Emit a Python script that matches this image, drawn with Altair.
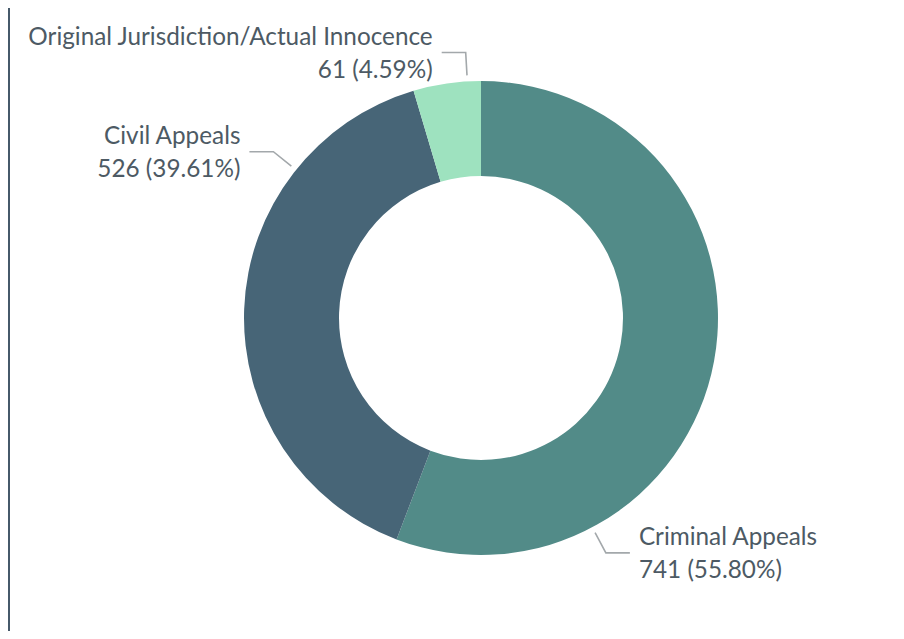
import math
import altair as alt
import pandas as pd

# ---- data ----
categories = ["Criminal Appeals", "Civil Appeals", "Original Jurisdiction/Actual Innocence"]
counts = [741, 526, 61]
colors = ["#528b88", "#476577", "#9ee2bf"]

# ---- layout (label anchor angles in degrees, clockwise from 12 o'clock) ----
label_angle = [152.0, 308.7, 356.7]
label_side = ["right", "left", "left"]

W, H = 888, 623
CX, CY = 473, 310
R_OUT, R_IN = 237, 142
R_L0, R_L1, HSEG, GAP = 243, 266, 24, 9
LH = 33

total = sum(counts)
df = pd.DataFrame({
    "category": categories,
    "count": counts,
    "order": list(range(len(categories))),
})
df["label"] = [f"{c}\n{v} ({v / total * 100:.2f}%)" for c, v in zip(categories, counts)]

# leader lines and label anchors derived from angles
line_rows, text_rows = [], []
for i, (c, a, side) in enumerate(zip(categories, label_angle, label_side)):
    t = math.radians(a)
    x0, y0 = CX + R_L0 * math.sin(t), CY - R_L0 * math.cos(t)
    x1, y1 = CX + R_L1 * math.sin(t), CY - R_L1 * math.cos(t)
    sgn = 1 if side == "right" else -1
    x2 = x1 + sgn * HSEG
    for k, (px, py) in enumerate([(x0, y0), (x1, y1), (x2, y1)]):
        line_rows.append({"category": c, "k": k, "px": px, "py": py})
    text_rows.append({"category": c, "side": side, "tx": x2 + sgn * GAP, "ty": y1,
                      "label": df.loc[i, "label"]})
lines = pd.DataFrame(line_rows)
texts = pd.DataFrame(text_rows)

xs = alt.Scale(domain=[0, W], range=[0, W])
ys = alt.Scale(domain=[0, H], range=[0, H])

arc = alt.Chart(df).mark_arc(outerRadius=R_OUT, innerRadius=R_IN).encode(
    theta=alt.Theta("count:Q", stack=True),
    order=alt.Order("order:Q"),
    color=alt.Color("category:N", scale=alt.Scale(domain=categories, range=colors), legend=None),
    x=alt.value(CX),
    y=alt.value(CY),
)

leaders = alt.Chart(lines).mark_line(color="#a3a8ab", strokeWidth=1.6).encode(
    x=alt.X("px:Q", scale=xs, axis=None),
    y=alt.Y("py:Q", scale=ys, axis=None),
    detail="category:N",
    order="k:Q",
)

text_common = dict(font="Lato", fontSize=24.3, color="#4d5a64", baseline="middle",
                   lineBreak="\n", lineHeight=LH, dy=-LH / 2 + 2)
text_right = alt.Chart(texts).transform_filter("datum.side == 'right'").mark_text(align="left", **text_common).encode(
    x=alt.X("tx:Q", scale=xs, axis=None), y=alt.Y("ty:Q", scale=ys, axis=None), text="label:N")
text_left = alt.Chart(texts).transform_filter("datum.side == 'left'").mark_text(align="right", **text_common).encode(
    x=alt.X("tx:Q", scale=xs, axis=None), y=alt.Y("ty:Q", scale=ys, axis=None), text="label:N")

bar = alt.Chart(pd.DataFrame({"a": [0]})).mark_rule(color="#46596a", strokeWidth=4).encode(
    x=alt.value(0), y=alt.value(0), y2=alt.value(H))

chart = alt.layer(arc, leaders, text_right, text_left, bar).properties(
    width=W, height=H, padding=0, autosize=alt.AutoSizeParams(type="none")
).configure(background="white").configure_view(stroke=None, strokeWidth=0)

chart.save("out.html", embed_options={"renderer": "svg", "actions": False})
